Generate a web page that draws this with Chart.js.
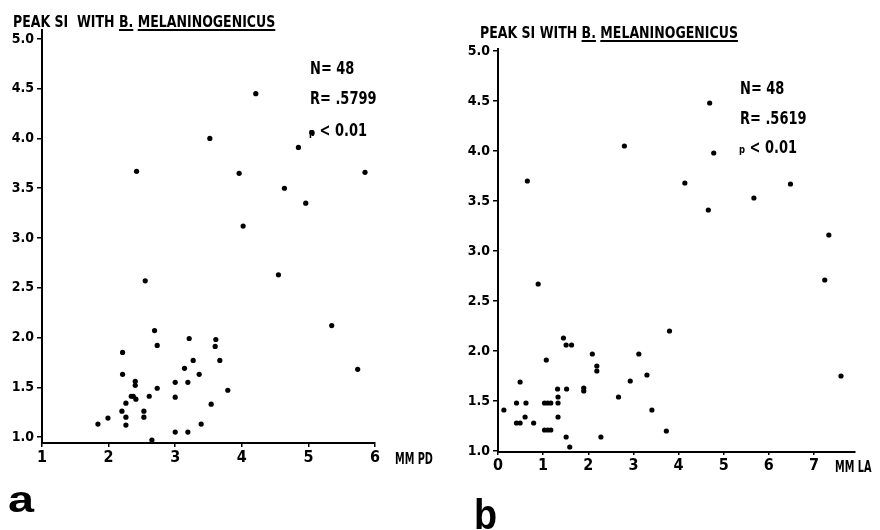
<!DOCTYPE html>
<html>
<head>
<meta charset="utf-8">
<script src="https://cdn.jsdelivr.net/npm/chart.js@4"></script>
<style>
  html,body{margin:0;padding:0;background:#fff;}
  #wrap{position:relative;width:880px;height:530px;background:#fff;overflow:hidden;}
  canvas{position:absolute;top:0;}
  .t{position:absolute;white-space:pre;color:#000;font-family:"DejaVu Sans Condensed",sans-serif;font-weight:bold;line-height:1;transform-origin:0 50%;}
  .u{text-decoration:underline;text-underline-offset:2px;text-decoration-thickness:1.5px;}
  .lbl{position:absolute;color:#000;font-family:"Liberation Sans","Arial",sans-serif;font-weight:bold;line-height:1;transform-origin:0 50%;}
</style>
</head>
<body>
<div id="wrap">
  <canvas id="ca" width="440" height="530" style="left:0"></canvas>
  <canvas id="cb" width="440" height="530" style="left:440px"></canvas>

  <div class="t" style="left:13px;top:15px;font-size:15px;transform:scaleX(0.93)">PEAK SI  WITH <span class="u">B.</span> <span class="u">MELANINOGENICUS</span></div>
  <div class="t" style="left:310px;top:60px;font-size:17px;transform:scaleX(0.85)">N= 48</div>
  <div class="t" style="left:310px;top:90px;font-size:17px;transform:scaleX(0.85)">R= .5799</div>
  <div class="t" style="left:309px;top:122px;font-size:17px;transform:scaleX(0.85)"><span style="font-size:11px">p</span> &lt; 0.01</div>
  <div class="t" style="left:395px;top:452px;font-size:15px;transform:scaleX(0.72)">MM PD</div>
  <div class="lbl" style="left:8px;top:482px;font-size:36px;transform:scaleX(1.3)">a</div>

  <div class="t" style="left:480px;top:26px;font-size:15px;transform:scaleX(0.93)">PEAK SI WITH <span class="u">B.</span> <span class="u">MELANINOGENICUS</span></div>
  <div class="t" style="left:740px;top:80px;font-size:17px;transform:scaleX(0.85)">N= 48</div>
  <div class="t" style="left:740px;top:110px;font-size:17px;transform:scaleX(0.85)">R= .5619</div>
  <div class="t" style="left:739px;top:139px;font-size:17px;transform:scaleX(0.85)"><span style="font-size:11px">p</span> &lt; 0.01</div>
  <div class="t" style="left:835px;top:460px;font-size:15px;transform:scaleX(0.72)">MM LA</div>
  <div class="lbl" style="left:474px;top:494px;font-size:42px;transform:scaleX(0.9)">b</div>
</div>

<script>
// ---- Panel a: MM PD vs peak SI ----
const pdX = [2.42, 3.52, 4.21, 3.96, 4.85, 5.05, 4.64, 4.96, 5.85, 4.02,
             2.55, 4.55, 5.35, 5.74, 2.69, 2.73, 2.21, 2.21, 3.21, 3.61,
             3.60, 3.27, 3.67, 3.14, 3.36, 3.00, 3.19, 3.79, 2.73, 2.40,
             2.40, 2.34, 2.37, 2.41, 2.61, 3.00, 2.26, 2.20, 2.53, 2.53,
             2.26, 1.99, 1.84, 2.26, 3.39, 3.54, 3.00, 3.19, 2.65];
const pdY = [3.67, 4.00, 4.45, 3.65, 3.91, 4.06, 3.50, 3.35, 3.66, 3.12,
             2.57, 2.63, 2.12, 1.68, 2.07, 1.92, 1.85, 1.63, 1.99, 1.98,
             1.91, 1.77, 1.77, 1.69, 1.63, 1.55, 1.55, 1.47, 1.49, 1.56,
             1.52, 1.41, 1.41, 1.38, 1.41, 1.40, 1.34, 1.26, 1.26, 1.20,
             1.20, 1.19, 1.13, 1.12, 1.13, 1.33, 1.05, 1.05, 0.97];

// ---- Panel b: MM LA vs peak SI ----
const laX = [0.65, 2.80, 4.69, 4.78, 4.14, 4.66, 5.67, 6.48, 7.33,
             7.24, 7.60, 0.89, 3.80, 1.45, 1.51, 1.63, 2.09, 3.12, 1.07,
             2.19, 2.19, 3.30, 0.49, 2.93, 1.32, 1.52, 1.90, 1.90, 2.67,
             1.33, 0.41, 0.62, 1.03, 1.10, 1.17, 1.33, 0.13, 3.41, 0.60,
             1.33, 0.41, 0.49, 0.79, 1.03, 1.10, 1.17, 3.73, 1.51, 2.28, 1.59];
const laY = [3.70, 4.05, 4.48, 3.98, 3.68, 3.41, 3.53, 3.67, 3.16,
             2.71, 1.75, 2.67, 2.20, 2.13, 2.06, 2.06, 1.97, 1.97, 1.91,
             1.85, 1.80, 1.76, 1.69, 1.70, 1.62, 1.62, 1.63, 1.60, 1.54,
             1.54, 1.48, 1.48, 1.48, 1.48, 1.48, 1.48, 1.41, 1.41, 1.34,
             1.34, 1.28, 1.28, 1.28, 1.21, 1.21, 1.21, 1.20, 1.14, 1.14, 1.04];

// ---- tick labels ----
const siTicks = [1.0, 1.5, 2.0, 2.5, 3.0, 3.5, 4.0, 4.5, 5.0];
const pdTicks = [1, 2, 3, 4, 5, 6];
const laTicks = [0, 1, 2, 3, 4, 5, 6, 7];

const FONT = '"DejaVu Sans Condensed",sans-serif';

function makeChart(id, xs, ys, xr, yr, xTicks, yWidth, pad, xTickLen) {
  const pts = xs.map((x, i) => ({x: x, y: ys[i]}));
  return new Chart(document.getElementById(id), {
    type: 'scatter',
    data: {datasets: [{
      data: pts,
      pointRadius: 2.6,
      pointBackgroundColor: '#000',
      pointBorderColor: '#000',
      pointBorderWidth: 0,
      clip: false
    }]},
    options: {
      responsive: false,
      animation: false,
      events: [],
      layout: {padding: pad},
      plugins: {legend: {display: false}, tooltip: {enabled: false}, title: {display: false}},
      scales: {
        x: {
          type: 'linear', min: xr[0], max: xr[1],
          border: {display: true, color: '#000', width: 2},
          grid: {display: true, drawOnChartArea: false, drawTicks: true, tickLength: xTickLen, color: '#000', lineWidth: 1.5},
          ticks: {color: '#000', font: {family: FONT, size: 16, weight: 'bold'}, padding: 1,
                  maxRotation: 0, autoSkip: false, callback: v => String(v)},
          afterBuildTicks: s => { s.ticks = xTicks.map(v => ({value: v})); },
          afterFit: s => { s.height = 30; }
        },
        y: {
          type: 'linear', min: yr[0], max: yr[1],
          border: {display: true, color: '#000', width: 2},
          grid: {display: true, drawOnChartArea: false, drawTicks: true, tickLength: 5, color: '#000', lineWidth: 1.5},
          ticks: {color: '#000', font: {family: FONT, size: 14, weight: 'bold'}, padding: 3,
                  autoSkip: false, callback: v => Number(v).toFixed(1)},
          afterBuildTicks: s => { s.ticks = siTicks.map(v => ({value: v})); },
          afterFit: s => { s.width = yWidth; }
        }
      }
    }
  });
}

makeChart('ca', pdX, pdY, [1, 6], [0.94, 5.09], pdTicks, 42,
          {left: 0, right: 65, top: 30, bottom: 57}, 4);
makeChart('cb', laX, laY, [0, 7.91], [0.99, 5.02], laTicks, 58,
          {left: 0, right: 25, top: 49, bottom: 48}, 3);
</script>
</body>
</html>
